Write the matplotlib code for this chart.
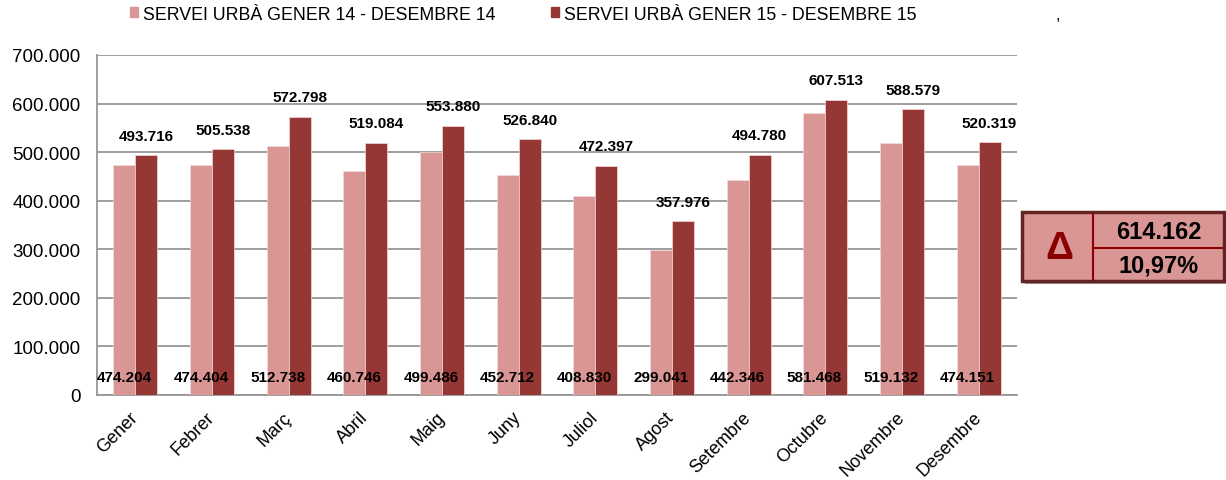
import matplotlib
matplotlib.use("Agg")
import matplotlib.pyplot as plt
import numpy as np
from matplotlib.patches import Rectangle
from matplotlib.lines import Line2D

plt.rcParams['font.family'] = ['Liberation Sans', 'DejaVu Sans']

months = ["Gener", "Febrer", "Març", "Abril", "Maig", "Juny", "Juliol",
          "Agost", "Setembre", "Octubre", "Novembre", "Desembre"]
serie_14 = [474204, 474404, 512738, 460746, 499486, 452712, 408830,
            299041, 442346, 581468, 519132, 474151]
serie_15 = [493716, 505538, 572798, 519084, 553880, 526840, 472397,
            357976, 494780, 607513, 588579, 520319]
label_14 = "SERVEI URBÀ GENER 14 - DESEMBRE 14"
label_15 = "SERVEI URBÀ GENER 15 - DESEMBRE 15"
yticks = [0, 100000, 200000, 300000, 400000, 500000, 600000, 700000]

c_light = "#D99694"
c_dark = "#953735"
grid_c = "#969696"


def fmt(v):
    return f"{v:,}".replace(",", ".")


fig = plt.figure(figsize=(12.26, 4.81), dpi=100)
ax = fig.add_axes([97 / 1226, 1 - 396 / 481, (1017 - 97) / 1226, (396 - 56) / 481])

x = np.arange(len(months))
w = 0.285
ax.bar(x - w / 2, serie_14, w, color=c_light, edgecolor="#f2dcdb", linewidth=0.5,
       label=label_14, zorder=3)
ax.bar(x + w / 2, serie_15, w, color=c_dark, edgecolor="#f2dcdb", linewidth=0.5,
       label=label_15, zorder=3)

ax.set_xlim(-0.5, len(months) - 0.5)
ax.set_ylim(0, 700000)
ax.set_yticks(yticks)
ax.set_yticklabels([fmt(t) if t else "0" for t in yticks], fontsize=13.5)
ax.yaxis.grid(True, color=grid_c, linewidth=1.3, zorder=0)
ax.set_axisbelow(True)
ax.tick_params(axis="y", length=0, pad=12)
ax.tick_params(axis="x", length=0, pad=14)
ax.set_xticks(x)
ax.set_xticklabels(months, rotation=45, ha="right", va="center", rotation_mode="anchor",
                   fontsize=13)
for s in ["top", "right"]:
    ax.spines[s].set_visible(False)
for s in ["left", "bottom"]:
    ax.spines[s].set_color(grid_c)
    ax.spines[s].set_linewidth(1.3)

for xi, v in zip(x, serie_14):
    ax.text(xi - w / 2, 37000, fmt(v), ha="center", va="center", fontsize=11,
            fontweight="bold", zorder=5)
for xi, v in zip(x, serie_15):
    ax.annotate(fmt(v), (xi + w / 2, v), xytext=(0, 9), textcoords="offset points",
                ha="center", va="bottom", fontsize=11, fontweight="bold", zorder=5)

handles = [Rectangle((0, 0), 1, 1, color=c_light), Rectangle((0, 0), 1, 1, color=c_dark)]
fig.legend(handles, [label_14, label_15], loc="center left",
           bbox_to_anchor=(130 / 1226, 1 - 15 / 481), ncol=2, frameon=False,
           fontsize=12.8, handlelength=0.45, handleheight=0.45, handletextpad=0.28,
           columnspacing=3.1, borderaxespad=0, borderpad=0)
fig.text(1058 / 1226, 1 - 15 / 481, ",", fontsize=12, ha="center", va="center")

# Delta box
total_diff = sum(serie_15) - sum(serie_14)
pct = total_diff / sum(serie_14) * 100
W, H = 1226, 481
def fx(px):
    return px / W
def fy(py):
    return 1 - py / H

fig.patches.append(Rectangle((fx(1025), fy(285)), fx(1226) - fx(1025), fy(216) - fy(285),
                             transform=fig.transFigure, facecolor="#a0a0a0",
                             edgecolor="none", zorder=1))
fig.patches.append(Rectangle((fx(1022), fy(282)), fx(1224) - fx(1022), fy(213) - fy(282),
                             transform=fig.transFigure, facecolor=c_light,
                             edgecolor="#632523", linewidth=2.5, zorder=2))
fig.add_artist(Line2D([fx(1093), fx(1093)], [fy(215), fy(280)], transform=fig.transFigure,
                      color="#8B0000", linewidth=1.5, zorder=3))
fig.add_artist(Line2D([fx(1093), fx(1222)], [fy(249), fy(249)], transform=fig.transFigure,
                      color="#8B0000", linewidth=1.5, zorder=3))
fig.text(fx(1059), fy(249), "Δ", fontsize=28, fontweight="bold", color="#8B0000",
         ha="center", va="center", zorder=4)
fig.text(fx(1159), fy(233), fmt(total_diff), fontsize=17, fontweight="bold",
         ha="center", va="center", zorder=4)
fig.text(fx(1159), fy(266), f"{pct:.2f}%".replace(".", ","), fontsize=17,
         fontweight="bold", ha="center", va="center", zorder=4)

fig.savefig("out.png", dpi=100)
